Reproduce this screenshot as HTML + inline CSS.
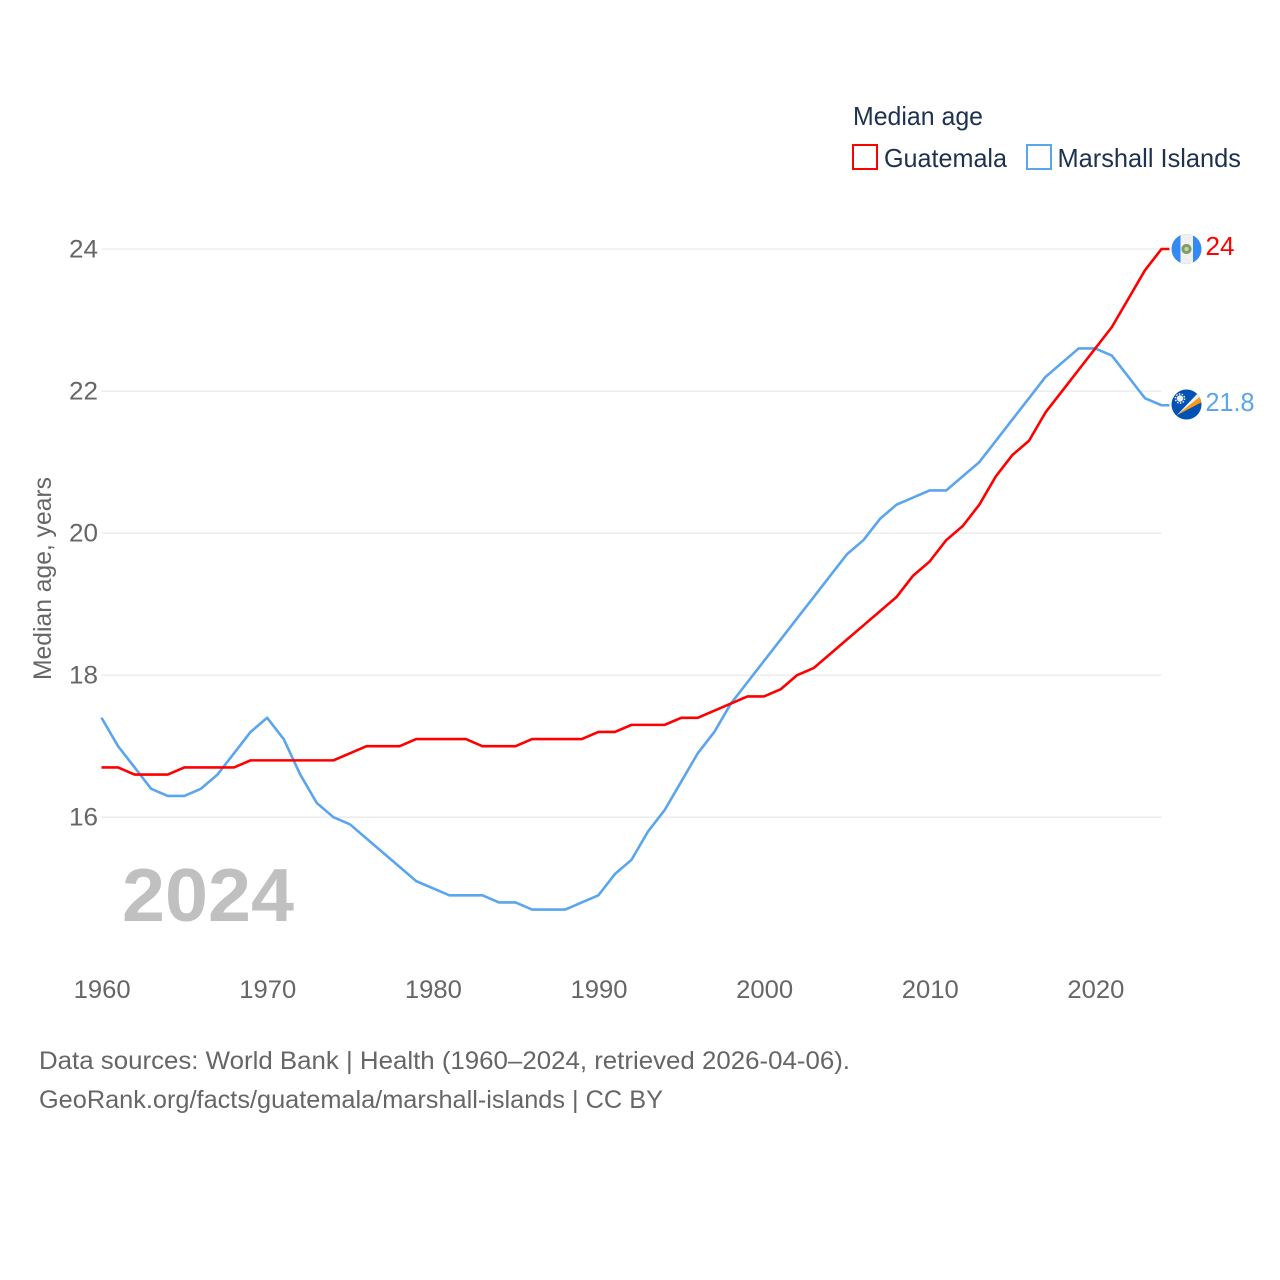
<!DOCTYPE html>
<html>
<head>
<meta charset="utf-8">
<title>Median age: Guatemala vs Marshall Islands</title>
<style>
html,body{margin:0;padding:0;background:#fff;}
svg{display:block;}
text{font-family:"Liberation Sans",sans-serif;}
</style>
</head>
<body>
<svg id="chart" width="1280" height="1280" viewBox="0 0 1280 1280" xmlns="http://www.w3.org/2000/svg">
  <rect x="0" y="0" width="1280" height="1280" fill="#fff"/>

  <text x="853" y="125" font-size="26" fill="#1d3150" textLength="130" lengthAdjust="spacingAndGlyphs">Median age</text>
  <rect x="853" y="145" width="24" height="24" fill="none" stroke="#ff0000" stroke-width="2"/>
  <text x="884" y="167" font-size="26" fill="#1d3150" textLength="123" lengthAdjust="spacingAndGlyphs">Guatemala</text>
  <rect x="1027" y="145" width="24" height="24" fill="none" stroke="#5ba5ec" stroke-width="2"/>
  <text x="1057.5" y="167" font-size="26" fill="#1d3150" textLength="183.5" lengthAdjust="spacingAndGlyphs">Marshall Islands</text>

  <g id="grid"></g>
  <g id="yticks"></g>
  <g id="xticks"></g>

  <text transform="translate(51,680) rotate(-90)" font-size="25" fill="#666666" textLength="203" lengthAdjust="spacingAndGlyphs">Median age, years</text>

  <text x="122" y="921" font-size="75" font-weight="bold" fill="#c0c0c0" textLength="172" lengthAdjust="spacingAndGlyphs">2024</text>

  <g id="series"></g>

  <g>
    <clipPath id="clip-gt"><circle cx="1186.5" cy="249" r="15"/></clipPath>
    <g clip-path="url(#clip-gt)">
      <rect x="1171" y="234" width="31" height="30" fill="#338af3"/>
      <rect x="1180.5" y="234" width="12.5" height="30" fill="#f0f0f0"/>
      <circle cx="1186.5" cy="249" r="3.6" fill="#c9d3b4" stroke="#7f9f5f" stroke-width="3"/>
    </g>
  </g>
  <text id="label-gt" x="1205.5" y="255" font-size="26" fill="#ff0000" textLength="29" lengthAdjust="spacingAndGlyphs">24</text>

  <g>
    <clipPath id="clip-mh"><circle cx="1186.5" cy="404.5" r="15"/></clipPath>
    <g clip-path="url(#clip-mh)">
      <rect x="1171" y="389" width="31" height="31" fill="#0052b4"/>
      <polygon points="1176.5,415.5 1198,393 1200.5,396.5" fill="#f0f0f0"/>
      <polygon points="1176.5,415.5 1200.5,396.5 1202,402" fill="#ff9811"/>
      <circle cx="1180" cy="398.5" r="3.2" fill="#f0f0f0"/>
      <circle cx="1180" cy="398.5" r="4.6" fill="none" stroke="#f0f0f0" stroke-width="1.6" stroke-dasharray="1.5 1.4"/>
    </g>
  </g>
  <text id="label-mh" x="1205.5" y="411" font-size="26" fill="#5ba5ec" textLength="49" lengthAdjust="spacingAndGlyphs">21.8</text>

  <text x="39" y="1069" font-size="25" fill="#666666" textLength="811" lengthAdjust="spacingAndGlyphs">Data sources: World Bank | Health (1960–2024, retrieved 2026-04-06).</text>
  <a><text x="39" y="1108" font-size="25" fill="#666666" textLength="624" lengthAdjust="spacingAndGlyphs">GeoRank.org/facts/guatemala/marshall-islands | CC BY</text></a>
</svg>

<script>
var startYear = 1960;
var guatemala = [16.7,16.7,16.6,16.6,16.6,16.7,16.7,16.7,16.7,16.8,
  16.8,16.8,16.8,16.8,16.8,16.9,17,17,17,17.1,
  17.1,17.1,17.1,17,17,17,17.1,17.1,17.1,17.1,
  17.2,17.2,17.3,17.3,17.3,17.4,17.4,17.5,17.6,17.7,
  17.7,17.8,18,18.1,18.3,18.5,18.7,18.9,19.1,19.4,
  19.6,19.9,20.1,20.4,20.8,21.1,21.3,21.7,22,22.3,
  22.6,22.9,23.3,23.7,24];
var marshallIslands = [17.4,17,16.7,16.4,16.3,16.3,16.4,16.6,16.9,17.2,
  17.4,17.1,16.6,16.2,16,15.9,15.7,15.5,15.3,15.1,
  15,14.9,14.9,14.9,14.8,14.8,14.7,14.7,14.7,14.8,
  14.9,15.2,15.4,15.8,16.1,16.5,16.9,17.2,17.6,17.9,
  18.2,18.5,18.8,19.1,19.4,19.7,19.9,20.2,20.4,20.5,
  20.6,20.6,20.8,21,21.3,21.6,21.9,22.2,22.4,22.6,
  22.6,22.5,22.2,21.9,21.8];
var yTickValues = [16,18,20,22,24];
var xTickValues = [1960,1970,1980,1990,2000,2010,2020];

var NS = 'http://www.w3.org/2000/svg';
function xScale(year){ return 101.5 + (year - 1960) * (1060 / 64); }
function yScale(v){ return 817.2 - (v - 16) * (568.2 / 8); }

var grid = document.getElementById('grid');
var yticks = document.getElementById('yticks');
var xticks = document.getElementById('xticks');
var series = document.getElementById('series');

yTickValues.forEach(function(v){
  var line = document.createElementNS(NS, 'line');
  
  
  line.setAttribute('x1', 101.5);
  line.setAttribute('x2', 1161.5);
  line.setAttribute('y1', yScale(v));
  line.setAttribute('y2', yScale(v));
  line.setAttribute('stroke', '#e9e9e9');
  line.setAttribute('stroke-width', '1.3');
  grid.appendChild(line);

  var t = document.createElementNS(NS, 'text');
  
  
  t.setAttribute('x', 98);
  t.setAttribute('y', yScale(v) + 8.3);
  t.setAttribute('text-anchor', 'end');
  t.setAttribute('font-size', '25');
  t.setAttribute('fill', '#666666');
  t.setAttribute('textLength', '29');
  t.setAttribute('lengthAdjust', 'spacingAndGlyphs');
  t.textContent = String(v);
  yticks.appendChild(t);
});

xTickValues.forEach(function(y){
  var t = document.createElementNS(NS, 'text');
  
  
  t.setAttribute('x', xScale(y) + 0.6);
  t.setAttribute('y', 998);
  t.setAttribute('text-anchor', 'middle');
  t.setAttribute('font-size', '25');
  t.setAttribute('fill', '#666666');
  t.setAttribute('textLength', '57');
  t.setAttribute('lengthAdjust', 'spacingAndGlyphs');
  t.textContent = String(y);
  xticks.appendChild(t);
});

function seriesPoints(values){
  var pts = values.map(function(v, i){
    return xScale(startYear + i).toFixed(2) + ',' + yScale(v).toFixed(2);
  });
  var last = values[values.length - 1];
  pts.push((xScale(startYear + values.length - 1) + 8).toFixed(2) + ',' + yScale(last).toFixed(2));
  return pts.join(' ');
}

var lineMh = document.createElementNS(NS, 'polyline');


lineMh.setAttribute('points', seriesPoints(marshallIslands));
lineMh.setAttribute('fill', 'none');
lineMh.setAttribute('stroke', '#5ba5ec');
lineMh.setAttribute('stroke-width', '2.6');
lineMh.setAttribute('stroke-linejoin', 'round');
series.appendChild(lineMh);

var lineGt = document.createElementNS(NS, 'polyline');


lineGt.setAttribute('points', seriesPoints(guatemala));
lineGt.setAttribute('fill', 'none');
lineGt.setAttribute('stroke', '#ff0000');
lineGt.setAttribute('stroke-width', '2.6');
lineGt.setAttribute('stroke-linejoin', 'round');
series.appendChild(lineGt);

document.getElementById('label-gt').textContent = String(guatemala[guatemala.length - 1]);
document.getElementById('label-mh').textContent = String(marshallIslands[marshallIslands.length - 1]);
</script>
</body>
</html>
